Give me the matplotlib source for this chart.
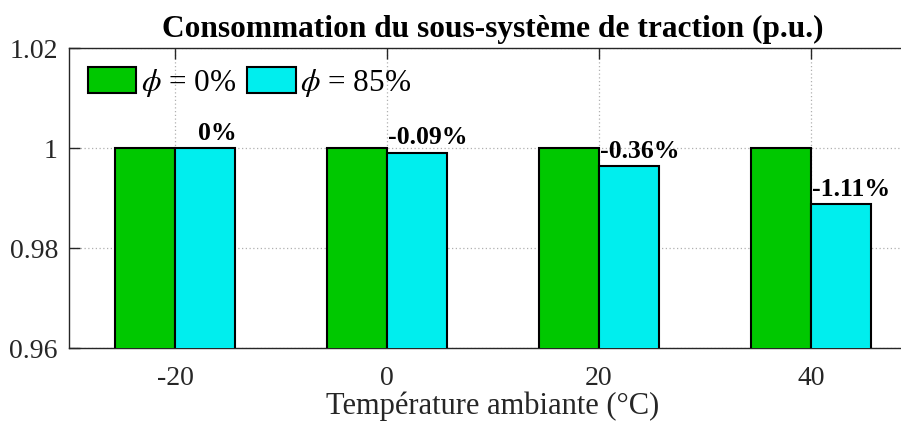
import matplotlib
matplotlib.use("Agg")
import matplotlib.pyplot as plt
import numpy as np

# Data
temperatures = [-20, 0, 20, 40]
phi_0 = [1.0, 1.0, 1.0, 1.0]
phi_85 = [1.0, 0.9991, 0.9964, 0.9889]
delta_labels = ["0%", "-0.09%", "-0.36%", "-1.11%"]
label_dx = [2.2, 0.05, 0.05, 0.05]
yticks = [0.96, 0.98, 1.0, 1.02]
ytick_labels = ["0.96", "0.98", "1", "1.02"]

plt.rcParams["font.family"] = ["Liberation Serif", "DejaVu Serif"]
plt.rcParams["mathtext.fontset"] = "stix"

fig = plt.figure(figsize=(9.01, 4.24), dpi=100)
ax = fig.add_axes([69 / 901, 76 / 424, 848 / 901, 300 / 424])

x = np.array(temperatures, dtype=float)
w = 5.7
green = "#00c800"
cyan = "#00eeee"
ax.bar(x - w / 2, phi_0, width=w, color=green, edgecolor="black",
       linewidth=1.5, label=r"$\phi$ = 0%", zorder=3)
ax.bar(x + w / 2, phi_85, width=w, color=cyan, edgecolor="black",
       linewidth=1.5, label=r"$\phi$ = 85%", zorder=3)

for xi, v, s, dx in zip(x, phi_85, delta_labels, label_dx):
    ax.text(xi + dx, v + 0.0006, s, ha="left", va="bottom",
            fontsize=18.5, fontweight="bold", zorder=4)

ax.set_xlim(-30, 50)
ax.set_ylim(0.96, 1.02)
ax.set_xticks(temperatures)
ax.set_xticklabels([str(t) for t in temperatures])
ax.set_yticks(yticks)
ax.set_yticklabels(ytick_labels)
ax.tick_params(direction="in", length=8, width=1, labelsize=20,
               top=True, right=True, colors="#262626", labelcolor="#262626")
ax.tick_params(axis="x", pad=13)
ax.tick_params(axis="y", pad=8)
ax.grid(True, linestyle=(0, (1, 2)), color="#b0b0b0", linewidth=0.9, zorder=0)
for sp in ax.spines.values():
    sp.set_color("#262626")
    sp.set_linewidth(1.0)

ax.set_xlabel("Température ambiante (°C)", fontsize=22, color="#262626",
              labelpad=0)
ax.set_title("Consommation du sous-système de traction (p.u.)",
             fontsize=22.6, fontweight="bold", pad=8)

leg = ax.legend(loc="upper left", ncol=2, frameon=False, fontsize=22.5,
                handlelength=1.55, handleheight=0.87, handletextpad=0.15,
                columnspacing=0.35, borderaxespad=0.3, borderpad=0.3)

fig.savefig("out.png", dpi=100)
